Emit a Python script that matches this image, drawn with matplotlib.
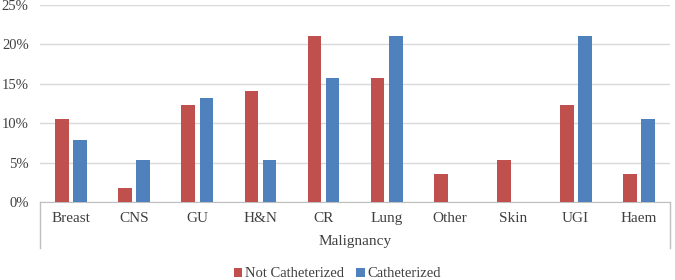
import numpy as np
import matplotlib.pyplot as plt

categories = ["Breast", "CNS", "GU", "H&N", "CR", "Lung", "Other", "Skin", "UGI", "Haem"]
not_cath = [10.53, 1.75, 12.28, 14.04, 21.05, 15.79, 3.51, 5.26, 12.28, 3.51]
cath = [7.89, 5.26, 13.16, 5.26, 15.79, 21.05, 0, 0, 21.05, 10.53]
yticks = [0, 5, 10, 15, 20, 25]

plt.rcParams['font.family'] = ['Liberation Serif', 'DejaVu Serif']

fig = plt.figure(figsize=(6.75, 2.8), dpi=100)
ax = fig.add_axes([0.059, 0.279, 0.934, 0.703])

x = np.arange(len(categories))
w = 0.22
ax.bar(x - 0.143, not_cath, w, color='#C0504D', label='Not Catheterized', zorder=3)
ax.bar(x + 0.143, cath, w, color='#4F81BD', label='Catheterized', zorder=3)

ax.set_xlim(-0.5, len(categories) - 0.5)
ax.set_ylim(0, 25)
ax.set_yticks(yticks)
ax.set_yticklabels([f"{t}%" for t in yticks], fontsize=10.5, color='#404040')
ax.set_xticks(x)
ax.set_xticklabels(categories, fontsize=11, color='#404040')
ax.tick_params(length=0, pad=7)
ax.tick_params(axis='y', pad=8)
ax.grid(axis='y', color='#D9D9D9', linewidth=1, zorder=0)
for s in ['top', 'right', 'left']:
    ax.spines[s].set_visible(False)
ax.spines['bottom'].set_color('#BFBFBF')

# multi-level category box
for xa in [0, 1]:
    ax.plot([xa, xa], [0, -0.235], transform=ax.transAxes, color='#BFBFBF',
            linewidth=1, clip_on=False)
ax.text(0.5, -0.2, "Malignancy", transform=ax.transAxes, ha='center', va='center',
        fontsize=11, color='#404040')

fig.legend(loc='center', bbox_to_anchor=(0.5, 0.022), ncol=2, frameon=False,
           fontsize=10.5, handlelength=0.6, handleheight=0.6, columnspacing=0.8,
           handletextpad=0.2, labelcolor='#404040')

fig.savefig("out.png", dpi=100)
